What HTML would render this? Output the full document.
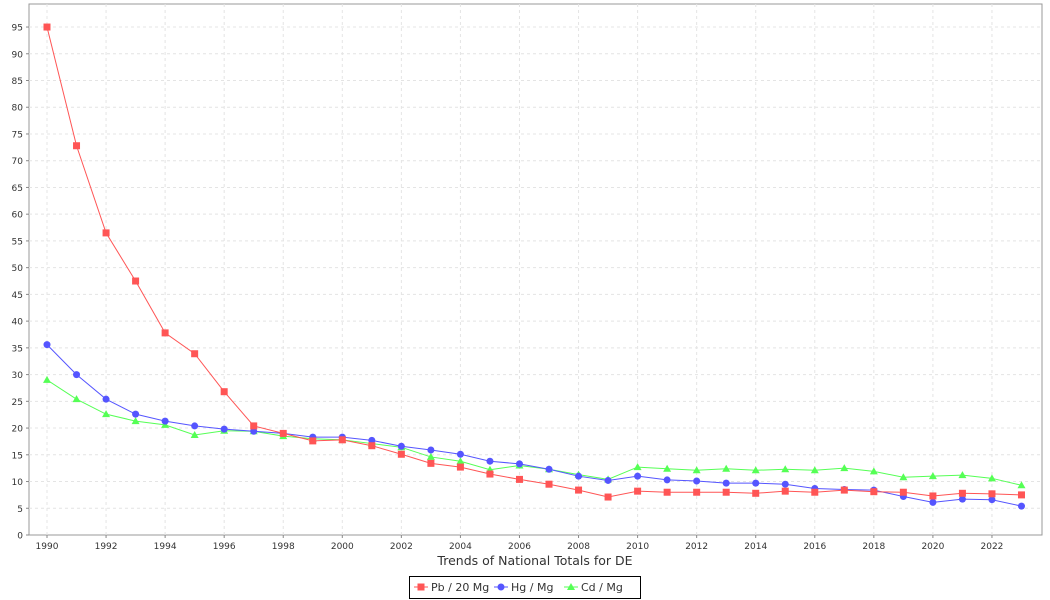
<!DOCTYPE html>
<html><head><meta charset="utf-8"><style>
html,body{margin:0;padding:0;background:#fff;}
svg{display:block;font-family:"DejaVu Sans","Liberation Sans",sans-serif;}
</style></head><body>
<svg id="c" width="1050" height="600" xmlns="http://www.w3.org/2000/svg"></svg>
<script>
const s=document.getElementById('c');
let h='';
const L=29,R=1042,T=4,B=535;
const X=y=>47+(y-1990)*29.53;
const Y=v=>535-v*5.347;
h+=`<rect x="${L}" y="${T}" width="${R-L}" height="${B-T}" fill="#fff" stroke="#999" stroke-width="1"/>`;
for(let v=0;v<=95;v+=5){const y=Y(v);
 if(v>0)h+=`<line x1="${L}" x2="${R}" y1="${y}" y2="${y}" stroke="#e4e4e4" stroke-dasharray="3,3"/>`;
 h+=`<line x1="${L-3}" x2="${L}" y1="${y}" y2="${y}" stroke="#888"/>`;
 h+=`<text x="${L-6}" y="${y+3.5}" font-size="9" text-anchor="end" fill="#333">${v}</text>`;}
for(let yr=1990;yr<=2022;yr+=2){const x=X(yr);
 h+=`<line x1="${x}" x2="${x}" y1="${T}" y2="${B}" stroke="#e4e4e4" stroke-dasharray="3,3"/>`;
 h+=`<line x1="${x}" x2="${x}" y1="${B}" y2="${B+3}" stroke="#888"/>`;
 h+=`<text x="${x}" y="${B+14}" font-size="9" text-anchor="middle" fill="#333">${yr}</text>`;}
const pb=[95,72.8,56.5,47.5,37.8,33.9,26.8,20.4,19,17.6,17.8,16.7,15.1,13.4,12.7,11.4,10.4,9.5,8.4,7.1,8.2,8.0,8.0,8.0,7.8,8.2,8.0,8.4,8.1,8.0,7.3,7.8,7.7,7.5];
const hg=[35.6,30,25.4,22.6,21.3,20.4,19.8,19.4,19,18.3,18.3,17.7,16.6,15.9,15.1,13.8,13.3,12.3,11,10.2,11,10.3,10.1,9.7,9.7,9.5,8.7,8.5,8.4,7.2,6.1,6.7,6.6,5.4];
const cd=[29,25.4,22.6,21.3,20.6,18.7,19.5,19.4,18.5,18.0,17.8,17.1,16.4,14.6,13.8,12.2,13.0,12.3,11.3,10.4,12.7,12.4,12.1,12.4,12.1,12.3,12.1,12.5,11.9,10.8,11,11.2,10.6,9.3];
function mark(t,x,y,c){
 if(t==0)return `<rect x="${x-3.5}" y="${y-3.5}" width="7" height="7" fill="${c}"/>`;
 if(t==1)return `<circle cx="${x}" cy="${y}" r="3.5" fill="${c}"/>`;
 return `<polygon points="${x},${y-4} ${x+4},${y+3} ${x-4},${y+3}" fill="${c}"/>`;}
function ser(d,c,t){
 h+=`<polyline fill="none" stroke="${c}" stroke-width="1" points="${d.map((v,i)=>X(1990+i)+','+Y(v)).join(' ')}"/>`;
 d.forEach((v,i)=>h+=mark(t,X(1990+i),Y(v),c));}
ser(cd,'#55ff55',2);ser(hg,'#5555ff',1);ser(pb,'#ff5555',0);
h+=`<text x="535" y="565" font-size="12.5" text-anchor="middle" fill="#333">Trends of National Totals for DE</text>`;
h+=`<rect x="409.5" y="576.5" width="231" height="22" fill="#fff" stroke="#000"/>`;
const lg=[['Pb / 20 Mg','#ff5555',0,414],['Hg / Mg','#5555ff',1,494],['Cd / Mg','#55ff55',2,564]];
lg.forEach(([t,c,m,x])=>{h+=`<line x1="${x}" x2="${x+14}" y1="587" y2="587" stroke="${c}"/>`+mark(m,x+7,587,c)+`<text x="${x+17}" y="591" font-size="11" fill="#333">${t}</text>`;});
s.innerHTML=h;
</script>
</body></html>
